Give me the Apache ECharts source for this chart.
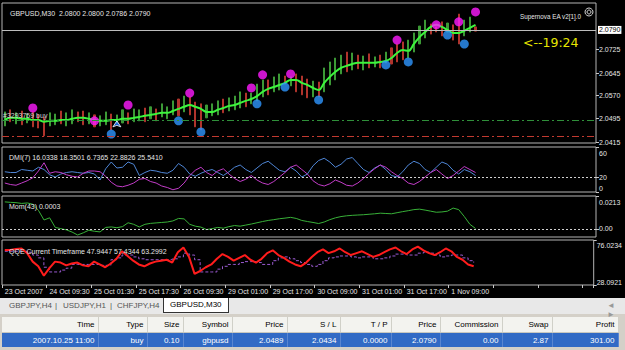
<!DOCTYPE html>
<html><head><meta charset="utf-8">
<script src="https://cdn.jsdelivr.net/npm/echarts@6/dist/echarts.min.js"></script>
<style>
body{margin:0;width:625px;height:350px;background:#d4d0c8;overflow:hidden;font-family:"Liberation Sans",Arial,sans-serif;position:relative;}
#chart{position:absolute;left:0;top:0;width:625px;height:298px;background:#000;}
#tabs{position:absolute;left:0;top:298px;width:625px;height:16px;background:#e8e8e8;font-size:8px;color:#555;}
#tabs span{position:absolute;top:3px;}
#tabs .act{top:0;height:14px;border:1px solid #333;border-top:none;background:#fff;color:#000;padding:0 6px;line-height:14px;}
#tbl{position:absolute;left:2px;top:317px;border-collapse:collapse;font-size:8px;table-layout:fixed;}
#tbl td{padding:0 3px 0 0;text-align:right;white-space:nowrap;overflow:hidden;}
#tbl tr.h td{height:15px;background:#f3f3ef;color:#000;border-right:1px solid #d0d0c8;border-bottom:1px solid #c8c8c0;}
#tbl tr.r td{height:14px;background:#316ac5;color:#fff;border-right:1px solid #5a86d0;}
</style></head>
<body>
<div id="chart"></div>
<div id="tabs">
<span style="left:9px">GBPJPY,H4</span><span style="left:55px">|</span>
<span style="left:63px">USDJPY,H1</span><span style="left:110px">|</span>
<span style="left:117px">CHFJPY,H4</span>
<span class="act" style="left:163px">GBPUSD,M30</span>
<span style="left:607px;color:#999">&#9668; &#9658;</span>
</div>
<table id="tbl">
<colgroup><col style="width:96px"><col style="width:49px"><col style="width:36px"><col style="width:49px"><col style="width:55px"><col style="width:53px"><col style="width:51px"><col style="width:49px"><col style="width:62px"><col style="width:50px"><col style="width:66px"></colgroup>
<tr class="h"><td>Time</td><td>Type</td><td>Size</td><td>Symbol</td><td>Price</td><td>S / L</td><td>T / P</td><td>Price</td><td>Commission</td><td>Swap</td><td>Profit</td></tr>
<tr class="r"><td>2007.10.25 11:00</td><td>buy</td><td>0.10</td><td>gbpusd</td><td>2.0489</td><td>2.0434</td><td>0.0000</td><td>2.0790</td><td>0.00</td><td>2.87</td><td>301.00</td></tr>
</table>
<script>
// ---- data ----
const timeLabels = ['23 Oct 2007','24 Oct 09:30','25 Oct 01:30','25 Oct 17:30','26 Oct 09:30','29 Oct 01:00','29 Oct 17:00','30 Oct 09:00','31 Oct 01:00','31 Oct 17:00','1 Nov 09:00'];
const barHigh = [2.0516,2.0523,2.0513,2.0519,2.0509,2.0516,2.0506,2.0499,2.0513,2.0509,
 2.0519,2.0513,2.0523,2.0516,2.0519,2.0513,2.0506,2.0503,2.0516,2.0509,
 2.0506,2.0523,2.0513,2.0526,2.0523,2.0529,2.0533,2.0526,2.0543,2.0533,
 2.0553,2.0559,2.0569,2.0566,2.0549,2.0543,2.0539,2.0543,2.0553,2.0559,
 2.0563,2.0569,2.0583,2.0579,2.0579,2.0609,2.0623,2.0623,2.0633,2.0643,
 2.0636,2.0633,2.0643,2.0636,2.0626,2.0619,2.0616,2.0663,2.0683,2.0696,
 2.0706,2.0716,2.0713,2.0706,2.0703,2.0710,2.0700,2.0706,2.0716,2.0730,
 2.0743,2.0750,2.0756,2.0780,2.0803,2.0823,2.0810,2.0800,2.0817,2.0813,
 2.0807,2.0843,2.0823,2.0833,2.0800];
const barLow = [2.0469,2.0483,2.0476,2.0473,2.0479,2.0466,2.0462,2.0436,2.0469,2.0473,
 2.0476,2.0469,2.0476,2.0483,2.0473,2.0476,2.0466,2.0469,2.0473,2.0456,
 2.0476,2.0479,2.0476,2.0483,2.0486,2.0483,2.0493,2.0486,2.0499,2.0493,
 2.0506,2.0503,2.0516,2.0506,2.0466,2.0456,2.0496,2.0503,2.0506,2.0513,
 2.0519,2.0523,2.0529,2.0533,2.0543,2.0553,2.0566,2.0573,2.0583,2.0589,
 2.0609,2.0603,2.0583,2.0573,2.0563,2.0566,2.0566,2.0583,2.0606,2.0623,
 2.0643,2.0650,2.0656,2.0660,2.0656,2.0663,2.0666,2.0663,2.0680,2.0676,
 2.0683,2.0690,2.0696,2.0716,2.0743,2.0763,2.0776,2.0783,2.0770,2.0783,
 2.0756,2.0743,2.0770,2.0783,2.0786];
const barUp = [1,0,1,0,1,0,0,0,1,1, 0,1,1,0,0,1,0,1,1,0, 1,1,0,1,1,0,1,0,1,1,
 1,0,1,0,0,0,1,1,1,0, 1,1,1,0,1,1,1,0,1,1, 0,1,0,0,0,1,0,1,1,1,
 1,0,1,0,1,0,1,0,1,0, 0,0,1,1,1,1,0,0,0,1, 0,0,1,1,0];
const maLine = [2.0489,2.0496,2.0496,2.0493,2.0493,2.0489,2.0489,2.0483,2.0486,2.0486,
 2.0489,2.0489,2.0493,2.0496,2.0496,2.0493,2.0489,2.0486,2.0486,2.0489,
 2.0489,2.0493,2.0493,2.0496,2.0499,2.0503,2.0506,2.0509,2.0513,2.0513,
 2.0519,2.0526,2.0533,2.0539,2.0533,2.0526,2.0516,2.0516,2.0523,2.0529,
 2.0536,2.0539,2.0546,2.0553,2.0559,2.0569,2.0583,2.0593,2.0599,2.0606,
 2.0613,2.0623,2.0623,2.0613,2.0606,2.0596,2.0589,2.0613,2.0633,2.0650,
 2.0663,2.0670,2.0676,2.0680,2.0680,2.0680,2.0680,2.0683,2.0686,2.0696,
 2.0713,2.0723,2.0720,2.0743,2.0766,2.0783,2.0800,2.0807,2.0800,2.0790,
 2.0780,2.0780,2.0787,2.0797,2.0807];
const upperDots = [[5,2.0529],[16,2.0486],[22,2.0539],[33,2.0579],[44,2.0596],[46,2.0640],[51,2.0643],[70,2.0756],[77,2.0807],[81,2.0817],[84,2.0850]];
const lowerDots = [[19,2.0442],[31,2.0486],[35,2.0449],[45,2.0543],[50,2.0599],[56,2.0556],[68,2.0673],[72,2.0683],[79,2.0773],[82,2.0743]];
const tradeMarks = [[20,2.0486]];
const openPrice = 2.0489, stopLoss = 2.0434, bidPrice = 2.0790;
const priceTicks = [2.0415,2.0495,2.0570,2.0645,2.0725];
const dmiPlus = [27,26,26,30,29,28,33,30,23,20,24,26,27,26,25,26,24,16,31,40,32,33,40,37,22,26,29,28,26,25,29,38,33,24,21,25,28,
 30,26,22,27,33,36,30,26,32,38,41,35,29,27,33,28,20,24,35,42,45,40,33,37,44,46,38,30,26,32,36,30,22,20,27,36,41,38,30,26,33,40,37,29,24,30,27,22];
const dmiMinus = [12,10,9,12,15,19,28,39,25,27,26,23,21,20,25,28,28,27,21,13,8,7,9,12,17,18,14,12,8,6,3,5,12,22,29,33,26,
 22,28,31,24,18,14,17,22,16,12,10,14,20,26,33,36,30,24,15,10,8,11,16,13,9,8,12,18,25,31,36,33,27,22,18,12,10,14,20,26,30,24,18,22,28,34,30,26];
const dmiTicks = [0,20,60];
const momentum = [0.0175,0.0172,0.0170,0.0165,0.0168,0.0160,0.0120,0.0058,0.0072,0.0010,0.0002,-0.0006,-0.0020,-0.0039,-0.0025,-0.0008,-0.0015,-0.0019,0.0010,0.0013,0.0008,0.0015,0.0040,0.0030,0.0013,0.0030,0.0036,0.0039,0.0042,0.0045,0.0052,0.0068,0.0065,0.0030,0.0018,0.0012,-0.0004,
 0.0002,0.0010,0.0005,0.0015,0.0022,0.0018,0.0025,0.0032,0.0040,0.0048,0.0055,0.0060,0.0066,0.0070,0.0075,0.0068,0.0055,0.0048,0.0042,0.0035,0.0045,0.0060,0.0072,0.0080,0.0085,0.0088,0.0090,0.0092,0.0095,0.0098,0.0102,0.0100,0.0098,0.0105,0.0112,0.0118,0.0125,0.0128,0.0122,0.0115,0.0108,0.0110,0.0115,0.0135,0.0125,0.0080,0.0030,0.0003];
const momTicks = [-0.0052,0,0.0213];
const qqeRsi = [65.4,65.5,66.5,67,62,53,48,38,46,53,52,49,51,52,49,48,53,50,47,51,56,64,59,54,50,48,51,53,54,55,52,63,68,58,40,43,47,
 50,56,61,58,54,57,60,55,52,56,62,65,60,57,53,50,48,52,58,63,66,62,64,67,63,60,62,64,61,58,60,63,66,68,64,61,66,69,65,62,60,63,67,64,58,55,50,48];
const qqeTrail = [64,64,64,64,63,60,57,47,42,42,44,46,50,50,50,50,50,49,49,55,57,60,60,58,56,55,55,55,55,55,56,58,62,60,55,42,42,
 42,45,48,50,50,52,53,53,52,50,50,54,57,58,56,54,52,50,48,50,54,57,58,59,59,58,57,58,58,56,56,57,59,61,61,60,60,62,63,62,60,58,59,60,60,57,54,52];
const qqeTicks = [28.0921,76.0234];

// ---- chart ----
const SLOTS = 106;
const categories = [];
for (let i = 0; i < SLOTS; i++) categories.push(i % 8 === 0 && i / 8 < timeLabels.length ? timeLabels[i / 8] : '');
const candleData = barHigh.map((h, i) => barUp[i] ? [barLow[i], h, barLow[i], h] : [h, barLow[i], barLow[i], h]);

const FONT = 'Liberation Sans';
const TXT = '#e6e6e6';
const chart = echarts.init(document.getElementById('chart'), null, {renderer: 'svg'});
const gridPos = [{top: 3, height: 140}, {top: 147, height: 45}, {top: 196, height: 41}, {top: 240, height: 45}];
const grids = gridPos.map(g => Object.assign({left: 2, right: 29, show: true, borderColor: '#b4b4b4', borderWidth: 1, backgroundColor: '#000'}, g));
const xAxes = gridPos.map((g, k) => ({
  type: 'category', gridIndex: k, data: categories, boundaryGap: true,
  axisLine: {show: false}, splitLine: {show: false},
  axisTick: k === 3 ? {show: true, length: 3, interval: (i) => i % 8 === 0, lineStyle: {color: '#c8c8c8'}} : {show: false},
  axisLabel: k === 3 ? {show: true, interval: 0, align: 'left', color: TXT, fontSize: 7, fontFamily: FONT, margin: 3} : {show: false}
}));
function subAxis(k, min, max, ticks, fmt, padTop, padBot) {
  return {
    type: 'value', gridIndex: k, position: 'right', min: min, max: max, splitLine: {show: false},
    axisLine: {show: false},
    axisTick: {show: true, length: 3, customValues: ticks, lineStyle: {color: '#c8c8c8'}},
    axisLabel: {
      customValues: ticks, margin: 3, color: TXT, fontSize: 7, fontFamily: FONT,
      formatter: v => {
        const s = fmt(v);
        if (Math.abs(v - max) < 1e-9) return '{t|' + s + '}';
        if (Math.abs(v - min) < 1e-9) return '{b|' + s + '}';
        return '{m|' + s + '}';
      },
      rich: {
        t: {padding: [padTop, 0, 0, 0], color: TXT, fontSize: 7, fontFamily: FONT},
        b: {padding: [0, 0, padBot, 0], color: TXT, fontSize: 7, fontFamily: FONT},
        m: {color: TXT, fontSize: 7, fontFamily: FONT}
      }
    }
  };
}
const yAxes = [
  {type: 'value', gridIndex: 0, position: 'right', min: 2.0412, max: 2.0880, splitLine: {show: false},
   axisLine: {show: false},
   axisTick: {show: true, length: 3, customValues: priceTicks, lineStyle: {color: '#c8c8c8'}},
   axisLabel: {customValues: priceTicks, margin: 3, color: TXT, fontSize: 7, fontFamily: FONT, formatter: v => v.toFixed(4)}},
  subAxis(1, 0, 60, dmiTicks, v => String(v), 12, 7),
  subAxis(2, -0.0052, 0.0213, momTicks, v => (Math.abs(v) < 1e-9 ? '0.00' : v.toFixed(4)), 12, 12),
  subAxis(3, 28.0921, 76.0234, qqeTicks, v => v.toFixed(4), 10, 6)
];
const dotLine = (val, col) => ({silent: true, symbol: ['none', 'none'], animation: false, precision: 4, label: {show: false},
  data: [{yAxis: val, lineStyle: {color: col, type: [2, 2], width: 1}}]});
const levelLine = (val, col, lbl) => ({silent: true, symbol: ['none', 'none'], animation: false, precision: 4,
  data: [{yAxis: val, lineStyle: {color: col, type: [7, 3, 2, 3], width: 1},
    label: lbl ? {show: true, position: 'insideStartTop', formatter: lbl, color: '#cfcfcf', fontSize: 7, fontFamily: FONT, distance: 1} : {show: false}}]});

const option = {
  animation: false,
  backgroundColor: '#000',
  textStyle: {fontFamily: FONT},
  grid: grids, xAxis: xAxes, yAxis: yAxes,
  title: [
    {text: 'GBPUSD,M30  2.0800 2.0800 2.0786 2.0790', left: 5, top: 5, textStyle: {color: TXT, fontSize: 7, fontWeight: 'normal', fontFamily: FONT}},
    {text: 'Supernova EA v2[1].0', left: 515, top: 8, textStyle: {color: TXT, fontSize: 6.3, fontWeight: 'normal', fontFamily: FONT}},
    {text: '<--19:24', left: 518, top: 31, textStyle: {color: '#e6e600', fontSize: 12.5, fontWeight: 'normal', fontFamily: 'DejaVu Sans'}},
    {text: 'DMI(7) 16.0338 18.3501 6.7365 22.8826 25.5410', left: 4, top: 149, textStyle: {color: TXT, fontSize: 7, fontWeight: 'normal', fontFamily: FONT}},
    {text: 'Mom(43) 0.0003', left: 4, top: 198, textStyle: {color: TXT, fontSize: 7, fontWeight: 'normal', fontFamily: FONT}},
    {text: 'QQE Current Timeframe 47.9447 57.4344 63.2992', left: 4, top: 243, textStyle: {color: TXT, fontSize: 7, fontWeight: 'normal', fontFamily: FONT}}
  ],
  graphic: [
    {type: 'circle', shape: {cx: 589, cy: 12, r: 4}, style: {fill: 'none', stroke: '#cfcfcf', lineWidth: 1}},
    {type: 'circle', shape: {cx: 589, cy: 12, r: 2}, style: {fill: 'none', stroke: '#cfcfcf', lineWidth: 1}}
  ],
  series: [
    {type: 'candlestick', xAxisIndex: 0, yAxisIndex: 0, data: candleData, barWidth: 1.6,
     itemStyle: {color: '#3c9a36', color0: '#b0342c', borderColor: '#3c9a36', borderColor0: '#b0342c', borderWidth: 1},
     markLine: levelLine(openPrice, '#2f8f3a', '#3293759 buy')},
    {type: 'line', xAxisIndex: 0, yAxisIndex: 0, data: maLine, smooth: 0.4, symbol: 'none', lineStyle: {color: '#3cf53c', width: 2}, z: 3,
     markLine: {silent: true, symbol: ['none', 'none'], animation: false, precision: 4,
       data: [{yAxis: bidPrice, lineStyle: {color: '#bdbdbd', type: 'solid', width: 1},
          label: {show: true, position: 'end', formatter: '2.0790', color: '#000', backgroundColor: '#fff', padding: [1, 1, 0, 1], fontSize: 7, fontFamily: FONT, distance: 2}}]}},
    {type: 'scatter', xAxisIndex: 0, yAxisIndex: 0, data: upperDots, symbolSize: 9, itemStyle: {color: '#ff1aff'}, z: 4},
    {type: 'scatter', xAxisIndex: 0, yAxisIndex: 0, data: lowerDots, symbolSize: 9, itemStyle: {color: '#2e96ff'}, z: 4,
     markLine: levelLine(stopLoss, '#c23a30', null)},
    {type: 'scatter', xAxisIndex: 0, yAxisIndex: 0, data: tradeMarks, symbol: 'arrow', symbolSize: 6, itemStyle: {color: '#1e6fff', borderColor: '#fff', borderWidth: 1}, z: 5},
    {type: 'line', xAxisIndex: 1, yAxisIndex: 1, data: dmiPlus, symbol: 'none', lineStyle: {color: '#4f86d6', width: 1}, markLine: dotLine(20, '#d0d0d0')},
    {type: 'line', xAxisIndex: 1, yAxisIndex: 1, data: dmiMinus, symbol: 'none', lineStyle: {color: '#c23cc8', width: 1}},
    {type: 'line', xAxisIndex: 2, yAxisIndex: 2, data: momentum, symbol: 'none', lineStyle: {color: '#38b038', width: 1}, markLine: dotLine(0, '#d0d0d0')},
    {type: 'line', xAxisIndex: 3, yAxisIndex: 3, data: qqeTrail, symbol: 'none', step: 'end', lineStyle: {color: '#9a5ad0', width: 1, type: [3, 2]}},
    {type: 'line', xAxisIndex: 3, yAxisIndex: 3, data: qqeRsi, symbol: 'none', lineStyle: {color: '#ff1c1c', width: 2}}
  ]
};
chart.setOption(option);
</script>
</body></html>
